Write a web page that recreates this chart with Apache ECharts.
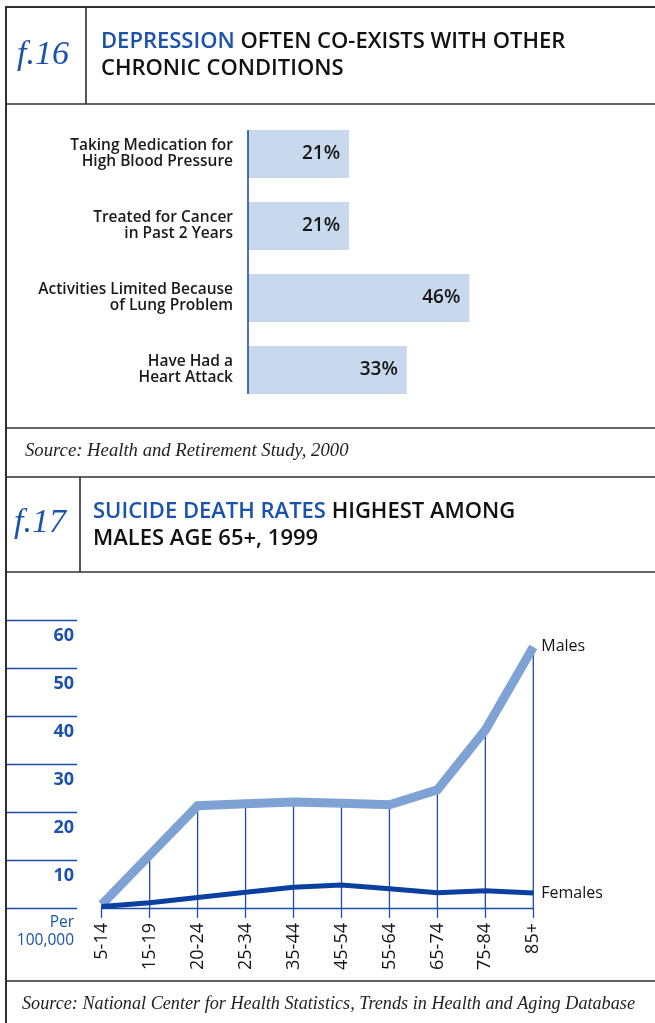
<!DOCTYPE html>
<html>
<head>
<meta charset="utf-8">
<script src="https://cdn.jsdelivr.net/npm/echarts@6/dist/echarts.min.js"></script>
<style>
  html, body { margin: 0; padding: 0; background: #ffffff; }
  #chart { width: 655px; height: 1023px; }
</style>
</head>
<body>
<div id="chart"></div>
<script>
// f.16 — conditions co-existing with depression (percent)
const conditionLabels = [
  'Taking Medication for\nHigh Blood Pressure',
  'Treated for Cancer\nin Past 2 Years',
  'Activities Limited Because\nof Lung Problem',
  'Have Had a\nHeart Attack'
];
const conditionShares = [21, 21, 46, 33];

// f.17 — suicide death rates per 100,000, 1999
const ageGroups = ['5-14', '15-19', '20-24', '25-34', '35-44', '45-54', '55-64', '65-74', '75-84', '85+'];
const malesRate = [0.7, 11.0, 21.3, 21.7, 22.1, 21.8, 21.5, 24.6, 37.1, 54.4];
const femalesRate = [0.3, 1.1, 2.2, 3.3, 4.3, 4.8, 4.0, 3.2, 3.6, 3.1];
const rateTicks = [0, 10, 20, 30, 40, 50, 60];

const SANS = '"Open Sans", "Noto Sans", sans-serif';
const SERIF = '"Liberation Serif", "DejaVu Serif", serif';
const BLUE = '#1b4fa6';
const TITLE_BLUE = '#1a52ad';
const FRAME = '#2e2e2e';

const chart = echarts.init(document.getElementById('chart'), null, { renderer: 'canvas' });

const option = {
  animation: false,
  backgroundColor: '#ffffff',
  grid: [
    { left: 248, top: 118, width: 385, height: 288 },
    { left: 101.7, top: 620, width: 431.6, height: 288 }
  ],
  xAxis: [
    {
      gridIndex: 0, type: 'value', min: 0, max: 80,
      show: false
    },
    {
      gridIndex: 1, type: 'category', data: ageGroups, boundaryGap: false,
      axisLine: { show: true, lineStyle: { color: BLUE, width: 1.3 } },
      axisTick: { show: true, length: 10, lineStyle: { color: BLUE, width: 1.3 } },
      axisLabel: {
        rotate: 90, margin: 15, color: '#141414',
        fontFamily: SANS, fontSize: 18, fontWeight: 500
      },
      splitLine: { show: false }
    }
  ],
  yAxis: [
    {
      gridIndex: 0, type: 'category', data: conditionLabels, inverse: true,
      axisLine: { show: false }, axisTick: { show: false },
      axisLabel: {
        margin: 15, color: '#1a1a1a', fontFamily: SANS,
        fontSize: 15.5, fontWeight: 600, lineHeight: 16, align: 'right'
      },
      splitLine: { show: false }
    },
    {
      gridIndex: 1, type: 'value',
      min: rateTicks[0], max: rateTicks[rateTicks.length - 1],
      interval: rateTicks[1] - rateTicks[0],
      position: 'left', offset: 24.7,
      axisLine: { show: false },
      axisTick: { show: true, length: 71, lineStyle: { color: BLUE, width: 1.3 } },
      splitLine: { show: false },
      axisLabel: {
        margin: 3, verticalAlign: 'top', padding: [6, 0, 0, 0],
        formatter: function (v) {
          return v === 0 ? '{p|Per}\n{p|100,000}' : '{n|' + v + '}';
        },
        rich: {
          n: { fontFamily: SANS, fontSize: 18, fontWeight: 'bold', color: TITLE_BLUE, lineHeight: 20, align: 'right' },
          p: { fontFamily: SANS, fontSize: 15.5, fontWeight: 500, color: TITLE_BLUE, lineHeight: 18, align: 'right' }
        }
      }
    }
  ],
  series: [
    {
      name: 'Share', type: 'bar', xAxisIndex: 0, yAxisIndex: 0,
      data: conditionShares, barWidth: 48,
      itemStyle: { color: '#c9d9ed' },
      label: {
        show: true, position: 'insideRight', distance: 9,
        formatter: '{c}%', color: '#161616',
        fontFamily: SANS, fontSize: 19, fontWeight: 600
      },
      silent: true
    },
    {
      // thin drop lines from each male value down to the baseline
      name: 'Drop', type: 'bar', xAxisIndex: 1, yAxisIndex: 1,
      data: malesRate, barWidth: 1.3,
      itemStyle: { color: BLUE },
      silent: true, z: 1
    },
    {
      name: 'Males', type: 'line', xAxisIndex: 1, yAxisIndex: 1,
      data: malesRate, showSymbol: false,
      lineStyle: { color: '#7fa2d5', width: 9, join: 'miter', cap: 'butt' },
      endLabel: {
        show: true, formatter: 'Males', distance: 8,
        color: '#141414', fontFamily: SANS, fontSize: 16
      },
      silent: true, z: 3
    },
    {
      name: 'Females', type: 'line', xAxisIndex: 1, yAxisIndex: 1,
      data: femalesRate, showSymbol: false,
      lineStyle: { color: '#0b40a1', width: 5, join: 'miter', cap: 'butt' },
      endLabel: {
        show: true, formatter: 'Females', distance: 8,
        color: '#141414', fontFamily: SANS, fontSize: 16
      },
      silent: true, z: 4
    }
  ]
};

chart.setOption(option);

// Panel frame, headers and source notes
function hLine(y, x1, x2, w) {
  return { type: 'line', shape: { x1: x1, y1: y, x2: x2, y2: y }, style: { stroke: FRAME, lineWidth: w }, silent: true, z: 20 };
}
function vLine(x, y1, y2, w) {
  return { type: 'line', shape: { x1: x, y1: y1, x2: x, y2: y2 }, style: { stroke: FRAME, lineWidth: w }, silent: true, z: 20 };
}
function figNumber(label, x, y) {
  return {
    type: 'text', x: x, y: y, silent: true, z: 20,
    style: {
      text: label, fill: TITLE_BLUE, font: 'italic 34px ' + SERIF,
      textAlign: 'left', textVerticalAlign: 'middle'
    }
  };
}
function heading(blue, black1, black2, x, y) {
  return {
    type: 'text', x: x, y: y, silent: true, z: 20,
    style: {
      text: '{b|' + blue + '}{k| ' + black1 + '}\n{k|' + black2 + '}',
      textAlign: 'left', textVerticalAlign: 'top',
      rich: {
        b: { fill: TITLE_BLUE, fontFamily: SANS, fontSize: 22, fontWeight: 600, lineHeight: 27 },
        k: { fill: '#111111', fontFamily: SANS, fontSize: 22, fontWeight: 600, lineHeight: 27 }
      }
    }
  };
}
function sourceNote(text, x, y, size) {
  return {
    type: 'text', x: x, y: y, silent: true, z: 20,
    style: {
      text: text, fill: '#1e1e1e', font: 'italic ' + size + 'px ' + SERIF,
      textAlign: 'left', textVerticalAlign: 'middle'
    }
  };
}

// axis rule along the left edge of the condition bars, spanning the bars only
const topCenter = chart.convertToPixel({ gridIndex: 0 }, [0, 0]);
const botCenter = chart.convertToPixel({ gridIndex: 0 }, [0, conditionLabels.length - 1]);
const halfBar = 24;

const graphics = [
  hLine(7, 5, 655, 2),
  vLine(6, 6, 1023, 2),
  vLine(86, 7, 104, 1.6),
  hLine(104, 6, 655, 1.6),
  hLine(428, 6, 655, 1.6),
  hLine(477, 6, 655, 1.6),
  vLine(80, 477, 572, 1.6),
  hLine(572, 6, 655, 1.6),
  hLine(981, 6, 655, 1.6),
  figNumber('f.16', 17, 55),
  figNumber('f.17', 14, 523),
  heading('DEPRESSION', 'OFTEN CO-EXISTS WITH OTHER', 'CHRONIC CONDITIONS', 101, 28),
  heading('SUICIDE DEATH RATES', 'HIGHEST AMONG', 'MALES AGE 65+, 1999', 93, 498),
  sourceNote('Source: Health and Retirement Study, 2000', 25, 451, 18.7),
  sourceNote('Source: National Center for Health Statistics, Trends in Health and Aging Database', 22, 1004, 18.2),
  {
    type: 'line', silent: true, z: 10,
    shape: { x1: topCenter[0], y1: topCenter[1] - halfBar, x2: botCenter[0], y2: botCenter[1] + halfBar },
    style: { stroke: BLUE, lineWidth: 1.6 }
  }
];

chart.setOption({ graphic: graphics });
</script>
</body>
</html>
